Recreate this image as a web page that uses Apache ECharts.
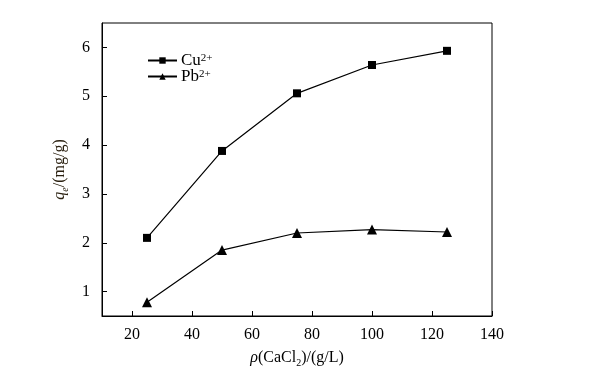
<!DOCTYPE html>
<html><head><meta charset="utf-8">
<script src="https://cdn.jsdelivr.net/npm/echarts@6/dist/echarts.min.js"></script>
<style>html,body{margin:0;padding:0;background:#fff}#c{width:604px;height:378px}</style>
</head><body><div id="c"></div>
<script>
const concentrations = [25, 50, 75, 100, 125];
const cuValues = [2.1, 3.88, 5.06, 5.64, 5.93];
const pbValues = [0.78, 1.85, 2.2, 2.27, 2.22];
const xTicks = [20, 40, 60, 80, 100, 120, 140];
const yTicks = [1, 2, 3, 4, 5, 6];
const seriesNames = ['Cu', 'Pb'];

const font = 'Liberation Serif';
const legendText = {
  fontFamily: font, color: '#000', padding: [0,0,0,-1],
  rich: { b: { fontFamily: font, fontSize: 17, color: '#000', lineHeight: 16 },
          s: { fontFamily: font, fontSize: 11, color: '#000', verticalAlign: 'top', lineHeight: 16 } }
};
const mkLegend = (name, top) => ({
  left: 142, top: top, orient: 'vertical', itemWidth: 29, itemHeight: 8, itemGap: 0,
  data: [name], formatter: n => '{b|' + n + '}{s|2+}', textStyle: legendText
});
const chart = echarts.init(document.getElementById('c'));
chart.setOption({
  animation: false,
  grid: { left: 102, right: 112, top: 23, bottom: 62, show: true, borderColor: '#000', borderWidth: 1 },
  legend: [mkLegend(seriesNames[0], 47), mkLegend(seriesNames[1], 63)],
  xAxis: {
    type: 'value', min: 10, max: 140,
    axisLine: { show: true, lineStyle: { color: '#000', width: 1 } },
    axisTick: { show: true, inside: true, length: 5, customValues: xTicks, lineStyle: { color: '#000' } },
    axisLabel: { customValues: xTicks, fontFamily: font, fontSize: 16, color: '#000', margin: 11 },
    splitLine: { show: false },
    name: '{i|ρ}{n|(CaCl}{s|2}{n|)/(g/L)}',
    nameLocation: 'middle', nameGap: 32,
    nameTextStyle: {
      rich: { i: { fontFamily: font, fontStyle: 'italic', fontSize: 16, color: '#000', lineHeight: 20 },
              n: { fontFamily: font, fontSize: 16, color: '#000', lineHeight: 20 },
              s: { fontFamily: font, fontSize: 10, color: '#000', verticalAlign: 'bottom', lineHeight: 20 } }
    }
  },
  yAxis: {
    type: 'value', min: 0.5, max: 6.5,
    axisLine: { show: true, lineStyle: { color: '#000', width: 1 } },
    axisTick: { show: true, inside: true, length: 5, customValues: yTicks, lineStyle: { color: '#000' } },
    axisLabel: { customValues: yTicks, fontFamily: font, fontSize: 16, color: '#000', margin: 12 },
    splitLine: { show: false },
    name: '{i|q}{s|e}{n|/(mg/g)}',
    nameLocation: 'middle', nameGap: 32, nameRotate: 90,
    nameTextStyle: {
      rich: { i: { fontFamily: font, fontStyle: 'italic', fontSize: 16, color: '#2a2010', lineHeight: 20 },
              n: { fontFamily: font, fontSize: 16, color: '#2a2010', lineHeight: 20 },
              s: { fontFamily: font, fontStyle: 'italic', fontSize: 10, color: '#2a2010', verticalAlign: 'bottom', lineHeight: 20 } }
    }
  },
  series: [
    { name: seriesNames[0], type: 'line', data: concentrations.map((x, i) => [x, cuValues[i]]),
      symbol: 'rect', symbolSize: 8, lineStyle: { color: '#000', width: 1.2 }, itemStyle: { color: '#000' } },
    { name: seriesNames[1], type: 'line', data: concentrations.map((x, i) => [x, pbValues[i]]),
      symbol: 'triangle', symbolSize: 10, lineStyle: { color: '#000', width: 1.2 }, itemStyle: { color: '#000' } }
  ]
});
</script></body></html>
